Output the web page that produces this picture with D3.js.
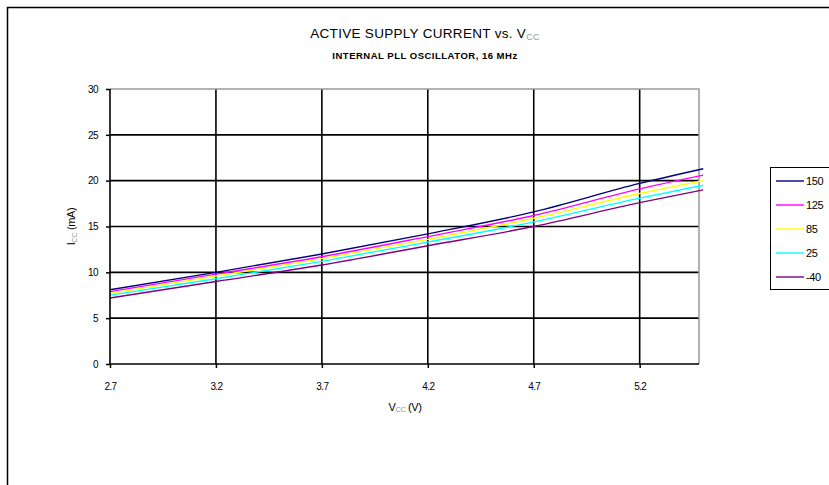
<!DOCTYPE html>
<html>
<head>
<meta charset="utf-8">
<script src="https://cdn.jsdelivr.net/npm/d3@7"></script>
<style>
  body { margin: 0; background: #fff; }
  svg text { font-family: "Liberation Sans", Arial, sans-serif; fill: #000; }
</style>
</head>
<body>
<svg id="chart"></svg>
<script>
var width = 829;
var height = 485;

// supply voltage (V)
var vcc = [2.7, 3.2, 3.7, 4.2, 4.7, 5.2, 5.5];
// series names (temperature, deg C)
var seriesNames = ["150", "125", "85", "25", "-40"];
var seriesColors = ["#000080", "#ff00ff", "#ffff00", "#00ffff", "#800080"];
// current in mA for each series
var i150 = [8.1, 10.0, 12.0, 14.2, 16.6, 19.7, 21.3];
var i125 = [7.9, 9.8, 11.7, 13.9, 16.2, 19.1, 20.6];
var i85  = [7.7, 9.6, 11.5, 13.6, 15.9, 18.6, 20.0];
var i25  = [7.5, 9.3, 11.2, 13.3, 15.5, 18.1, 19.5];
var iM40 = [7.2, 9.0, 10.8, 12.9, 15.0, 17.6, 19.0];
var seriesValues = [i150, i125, i85, i25, iM40];

var xTicks = [2.7, 3.2, 3.7, 4.2, 4.7, 5.2];
var yTicks = [0, 5, 10, 15, 20, 25, 30];

var plot = { left: 110, right: 699, top: 89, bottom: 364 };

var svg = d3.select("#chart")
    .attr("width", width)
    .attr("height", height);

// outer chart frame (runs off the page on right and bottom)
svg.append("rect")
    .attr("x", 7.5).attr("y", 7.5)
    .attr("width", 900).attr("height", 600)
    .attr("fill", "none")
    .attr("stroke", "#000")
    .attr("stroke-width", 1.5);

var x = d3.scaleLinear().domain([2.7, 5.48]).range([plot.left, plot.right]);
var y = d3.scaleLinear().domain([0, 30]).range([plot.bottom, plot.top]);

// gridlines
svg.append("g").selectAll("line.h")
    .data(yTicks.filter(function(t) { return t > 0 && t < 30; }))
    .enter().append("line")
        .attr("x1", plot.left).attr("x2", plot.right)
        .attr("y1", function(d) { return y(d); })
        .attr("y2", function(d) { return y(d); })
        .attr("stroke", "#000").attr("stroke-width", 1.6);

svg.append("g").selectAll("line.v")
    .data(xTicks.slice(1))
    .enter().append("line")
        .attr("x1", function(d) { return x(d); })
        .attr("x2", function(d) { return x(d); })
        .attr("y1", plot.top).attr("y2", plot.bottom)
        .attr("stroke", "#000").attr("stroke-width", 1.6);

// plot border top/right in grey
svg.append("path")
    .attr("d", "M" + plot.left + "," + plot.top + "H" + plot.right + "V" + plot.bottom)
    .attr("fill", "none")
    .attr("stroke", "#999")
    .attr("stroke-width", 1.5);

// series lines
var line = d3.line()
    .x(function(d, i) { return x(vcc[i]); })
    .y(function(d) { return y(d); })
    .curve(d3.curveMonotoneX);

seriesValues.slice().reverse().forEach(function(vals, k) {
    var idx = seriesValues.length - 1 - k;
    svg.append("path")
        .attr("d", line(vals))
        .attr("fill", "none")
        .attr("stroke", seriesColors[idx])
        .attr("stroke-width", 1.4);
});

// axes
var xAxis = d3.axisBottom(x).tickValues(xTicks).tickSize(4)
    .tickFormat(function(d) { return d3.format(".1f")(d); });
var gx = svg.append("g")
    .attr("transform", "translate(0," + plot.bottom + ")")
    .call(xAxis);
gx.select(".domain").attr("stroke", "#000").attr("stroke-width", 1.6)
    .attr("d", "M" + plot.left + ",0H" + plot.right);
gx.selectAll(".tick line").attr("stroke", "#000").attr("stroke-width", 1.5);
gx.selectAll(".tick text").attr("dy", "1.9em")
    .style("font-size", "10px").attr("letter-spacing", "-0.6");

var yAxis = d3.axisLeft(y).tickValues(yTicks).tickSize(4);
var gy = svg.append("g")
    .attr("transform", "translate(" + plot.left + ",0)")
    .call(yAxis);
gy.select(".domain").attr("stroke", "#000").attr("stroke-width", 1.6)
    .attr("d", "M0," + plot.top + "V" + plot.bottom);
gy.selectAll(".tick line").attr("stroke", "#000").attr("stroke-width", 1.5);
gy.selectAll(".tick text").attr("dx", "-0.5em")
    .style("font-size", "10px").attr("letter-spacing", "-0.6");

// titles
var title = svg.append("text")
    .attr("x", 425).attr("y", 38)
    .attr("text-anchor", "middle")
    .style("font-size", "13.5px")
    .attr("letter-spacing", "0.3");
title.append("tspan").text("ACTIVE SUPPLY CURRENT vs. V");
title.append("tspan").text("CC")
    .attr("dy", 2).style("font-size", "9px").style("fill", "#999");

svg.append("text")
    .attr("x", 425).attr("y", 59)
    .attr("text-anchor", "middle")
    .style("font-size", "9.5px")
    .style("font-weight", "bold")
    .attr("letter-spacing", "0.5")
    .text("INTERNAL PLL OSCILLATOR, 16 MHz");

var xt = svg.append("text")
    .attr("x", 405).attr("y", 411)
    .attr("text-anchor", "middle")
    .style("font-size", "11px")
    .attr("letter-spacing", "-0.4");
xt.append("tspan").text("V");
xt.append("tspan").text("CC").attr("dy", 1).style("font-size", "7.5px").style("fill", "#999");
xt.append("tspan").text(" (V)").attr("dy", -1);

var yt = svg.append("text")
    .attr("transform", "translate(75," + ((plot.top + plot.bottom) / 2) + ") rotate(-90)")
    .attr("text-anchor", "middle")
    .style("font-size", "11px")
    .attr("letter-spacing", "-0.4");
yt.append("tspan").text("I");
yt.append("tspan").text("CC").attr("dy", 2).style("font-size", "7.5px").style("fill", "#999");
yt.append("tspan").text(" (mA)").attr("dy", -2);

// legend
var legend = svg.append("g");
legend.append("rect")
    .attr("x", 770.5).attr("y", 167.5)
    .attr("width", 80).attr("height", 122)
    .attr("fill", "#fff")
    .attr("stroke", "#000").attr("stroke-width", 1);

var items = legend.selectAll("g.item")
    .data(seriesNames)
    .enter().append("g")
        .attr("transform", function(d, i) { return "translate(0," + (181 + i * 24) + ")"; });
items.append("line")
    .attr("x1", 776).attr("x2", 804)
    .attr("stroke", function(d, i) { return seriesColors[i]; })
    .attr("stroke-width", 1.4);
items.append("text")
    .attr("x", 806).attr("dy", "0.35em")
    .style("font-size", "11px")
    .attr("letter-spacing", "-0.4")
    .text(function(d) { return d; });
</script>
</body>
</html>
